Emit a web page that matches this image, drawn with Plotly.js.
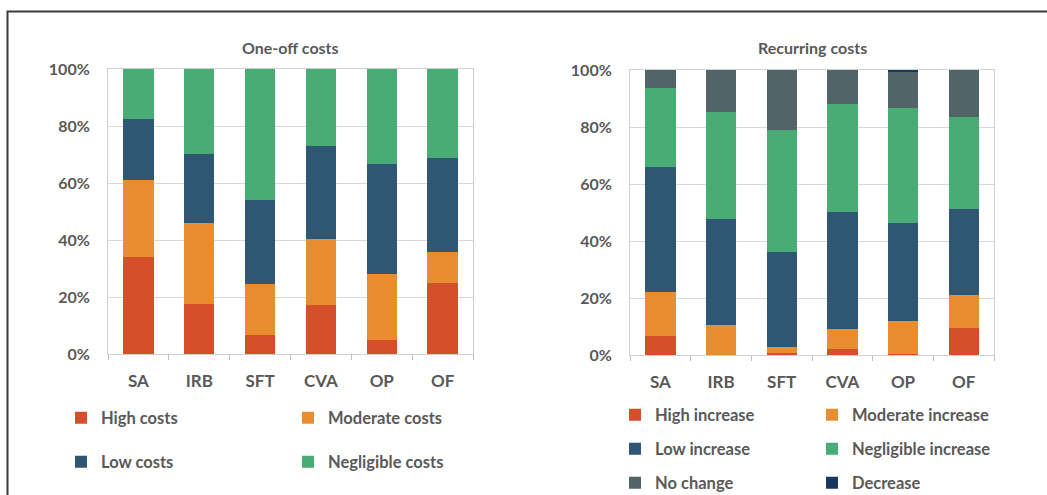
<!DOCTYPE html>
<html>
<head>
<meta charset="utf-8">
<script src="https://cdn.plot.ly/plotly-3.0.1.min.js"></script>
<style>html,body{margin:0;padding:0;background:#fff;}#chart{width:1047px;height:495px;}</style>
</head>
<body>
<div id="chart"></div>
<script>
// ---- Data ----
var categories = ["SA", "IRB", "SFT", "CVA", "OP", "OF"];

// One-off costs (% of respondents)
var oneOffHigh       = [33.9, 17.5, 6.5, 17.1, 5.0, 25.0];
var oneOffModerate   = [27.3, 28.3, 18.0, 23.3, 22.9, 10.7];
var oneOffLow        = [21.4, 24.3, 29.7, 32.6, 38.8, 33.0];
var oneOffNegligible = [17.4, 29.9, 45.8, 27.0, 33.3, 31.3];

// Recurring costs (% of respondents)
var recHigh       = [6.6, 0.0, 0.6, 2.1, 0.5, 9.3];
var recModerate   = [15.6, 10.4, 2.3, 7.0, 11.6, 11.7];
var recLow        = [43.8, 37.2, 33.1, 41.1, 34.3, 30.3];
var recNegligible = [27.7, 37.6, 43.0, 38.0, 40.1, 32.3];
var recNoChange   = [6.3, 14.8, 21.0, 11.8, 13.1, 16.4];
var recDecrease   = [0.0, 0.0, 0.0, 0.0, 0.4, 0.0];

var oneOffNames = ["High costs", "Moderate costs", "Low costs", "Negligible costs"];
var recNames = ["High increase", "Moderate increase", "Low increase", "Negligible increase", "No change", "Decrease"];
var tickLabels = ["0%", "20%", "40%", "60%", "80%", "100%"];
var tickVals = [0, 20, 40, 60, 80, 100];

// ---- Styles ----
var C = {red:"#D5502A", orange:"#E98D31", blue:"#2F5673", green:"#49AC74", grey:"#536469", navy:"#17375E"};
var W = 1047, H = 495;
var FONT = "Lato, 'Open Sans', sans-serif";
var TXT = "#595959";

function bar(name, y, color, xa, ya, legend) {
  return {type:"bar", name:name, x:categories, y:y, xaxis:xa, yaxis:ya,
    marker:{color:color, line:{width:0}}, legend:legend, hoverinfo:"name+y"};
}

var traces = [
  bar(oneOffNames[0], oneOffHigh, C.red, "x", "y", "legend"),
  bar(oneOffNames[1], oneOffModerate, C.orange, "x", "y", "legend"),
  bar(oneOffNames[2], oneOffLow, C.blue, "x", "y", "legend2"),
  bar(oneOffNames[3], oneOffNegligible, C.green, "x", "y", "legend2"),
  bar(recNames[0], recHigh, C.red, "x2", "y2", "legend3"),
  bar(recNames[1], recModerate, C.orange, "x2", "y2", "legend3"),
  bar(recNames[2], recLow, C.blue, "x2", "y2", "legend4"),
  bar(recNames[3], recNegligible, C.green, "x2", "y2", "legend4"),
  bar(recNames[4], recNoChange, C.grey, "x2", "y2", "legend5"),
  bar(recNames[5], recDecrease, C.navy, "x2", "y2", "legend5")
];

function px(x){return x/W;}
function py(y){return 1 - y/H;}

function xax(d){
  return {domain:d, type:"category", showline:true, mirror:true, linecolor:"#d0d0d0", linewidth:1,
    ticks:"outside", tickson:"boundaries", ticklen:5, tickcolor:"#bfbfbf", ticklabelstandoff:12,
    tickfont:{family:FONT, size:17, color:TXT, weight:"bold"}, showgrid:false, fixedrange:true, automargin:false};
}
function yax(d, anchor){
  return {domain:d, anchor:anchor, range:[0,100], tickvals:tickVals, ticktext:tickLabels,
    showline:true, mirror:true, linecolor:"#d0d0d0", gridcolor:"#d9d9d9", gridwidth:1,
    ticks:"", ticklabelstandoff:14, tickfont:{family:FONT, size:16, color:TXT, weight:"bold"},
    zeroline:false, fixedrange:true, automargin:false};
}
function leg(xp, yp, ew){
  return {orientation:"h", x:px(xp), y:py(yp), xanchor:"left", yanchor:"middle",
    entrywidth:ew, entrywidthmode:"pixels", bgcolor:"rgba(0,0,0,0)",
    font:{family:FONT, size:16.5, color:TXT, weight:"bold"}, traceorder:"normal", itemclick:false};
}

var layout = {
  width:W, height:H, autosize:false, margin:{l:0,r:0,t:0,b:0,pad:0,autoexpand:false},
  paper_bgcolor:"#fff", plot_bgcolor:"#fff",
  barmode:"stack", bargap:0.5, showlegend:true,
  xaxis: xax([px(108), px(473)]),
  yaxis: yax([py(354), py(69)], "x"),
  xaxis2: Object.assign(xax([px(630), px(994)]), {anchor:"y2"}),
  yaxis2: yax([py(355), py(70)], "x2"),
  legend: leg(61, 418, 182),
  legend2: leg(61, 462, 182),
  legend3: leg(615, 415, 152),
  legend4: leg(615, 449, 152),
  legend5: leg(615, 483, 152),
  annotations:[
    {text:"One-off costs", xref:"paper", yref:"paper", x:px(290), y:py(48), showarrow:false,
      xanchor:"center", yanchor:"middle", font:{family:FONT, size:16, color:TXT, weight:"bold"}},
    {text:"Recurring costs", xref:"paper", yref:"paper", x:px(812), y:py(48), showarrow:false,
      xanchor:"center", yanchor:"middle", font:{family:FONT, size:16, color:TXT, weight:"bold"}}
  ],
  shapes:[
    {type:"path", xref:"paper", yref:"paper",
      path:"M "+px(7.5)+","+py(500)+" L "+px(7.5)+","+py(11.5)+" L "+px(1050)+","+py(11.5),
      line:{color:"#3a3a3a", width:2}}
  ]
};

Plotly.newPlot("chart", traces, layout, {displayModeBar:false, staticPlot:false});
</script>
</body>
</html>
